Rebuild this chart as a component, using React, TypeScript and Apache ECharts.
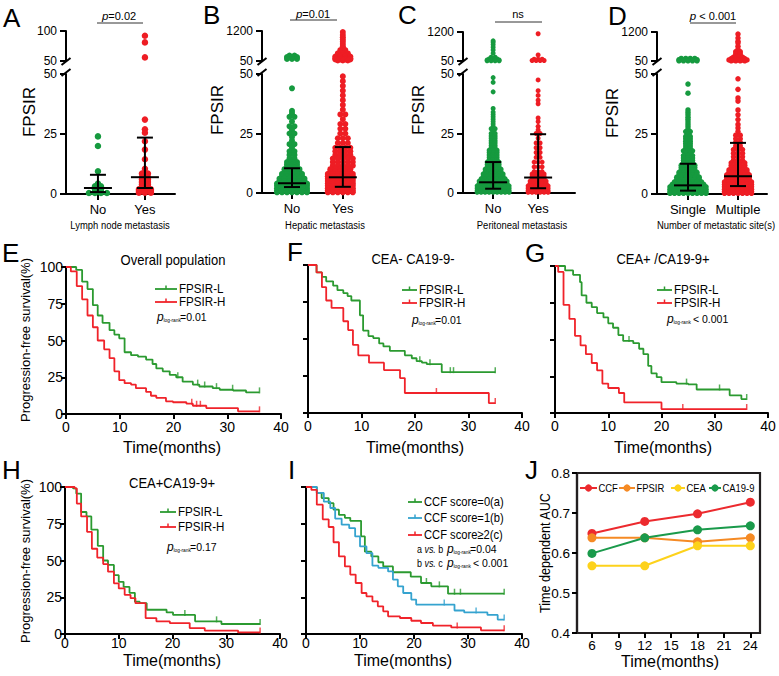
import React, { useEffect, useRef } from 'react';
import * as echarts from 'echarts';

const FONT = "'Liberation Sans', Arial, Helvetica, sans-serif";

const GREEN = '#169a3f';
const RED = '#ee1d24';
const KM_GREEN = '#2b9a30';
const KM_RED = '#f0232a';
const KM_BLUE = '#35a3cf';

// ---------- FPSIR by metastatic pattern: [FPSIR value, patients at that value] ----------
const lymphNoLow = [[24, 1], [20, 1], [9.5, 1], [4.3, 1], [3.2, 2], [2, 2], [1, 2], [0.4, 4]];
const lymphNoHigh: number[][] = [];
const lymphYesLow = [[31, 1], [27, 1], [25.5, 1], [22, 1], [18.5, 1], [14.5, 1], [10.5, 1], [8.5, 2], [7, 2], [6, 2], [5, 2], [4, 2], [3, 2], [2, 3], [1.2, 3], [0.5, 3]];
const lymphYesHigh = [[92, 1], [81, 1], [56, 1]];
const lymphNoIqr = [0.8, 2.5, 8];
const lymphYesIqr = [2.5, 7, 23.5];

const hepNoLow = [[44, 1], [34.5, 1], [33.5, 1], [32, 2], [30, 1], [28, 2], [26.5, 1], [25, 2], [23.5, 1], [22, 1], [20.5, 2], [19, 1], [17.5, 2], [16, 2], [14.5, 2], [13, 3], [12, 3], [11, 3], [10, 4], [9, 4], [8, 5], [7, 5], [6, 6], [5, 6], [4, 7], [3, 7], [2, 7], [1, 7], [0.3, 7]];
const hepNoHigh = [[260, 2], [200, 3], [130, 3]];
const hepYesLow = [[49, 1], [47, 1], [45, 1], [43, 1], [41, 1], [39, 1], [37, 1], [35, 1], [33, 2], [31, 1], [29, 2], [27, 2], [25, 2], [23, 3], [21, 3], [19, 4], [17.5, 4], [16, 4], [14.5, 5], [13, 5], [11.5, 5], [10, 6], [9, 6], [8, 7], [7, 7], [6, 7], [5, 7], [4, 7], [3, 7], [2, 7], [1, 7], [0.3, 7]];
const hepYesHigh = [[1160, 1], [1050, 1], [960, 1], [870, 1], [790, 1], [700, 1], [620, 1], [540, 1], [470, 2], [400, 2], [340, 3], [280, 3], [220, 4], [160, 4], [110, 4], [70, 3]];
const hepNoIqr = [2.5, 4.1, 10.4];
const hepYesIqr = [2.6, 6.6, 19.3];

const perNoLow = [[48.5, 1], [46.5, 1], [42.5, 1], [35.5, 1], [34, 1], [33, 1], [32, 1], [31, 1], [30, 1], [29, 1], [28, 1], [27, 2], [26, 1], [25, 2], [24, 2], [23, 2], [22, 2], [21, 2], [20, 2], [19, 2], [18, 3], [17, 3], [16, 3], [15, 3], [14, 3], [13, 4], [12, 4], [11, 4], [10, 5], [9, 5], [8, 6], [7, 6], [6, 7], [5, 8], [4, 8], [3, 9], [2, 9], [1, 9], [0.3, 9]];
const perNoHigh = [[850, 1], [790, 1], [700, 1], [600, 1], [490, 1], [360, 1], [200, 2], [130, 3], [90, 4], [60, 4]];
const perYesLow = [[47.5, 1], [43, 1], [41, 1], [39, 1], [37.5, 1], [31.5, 1], [30, 1], [28, 1], [26.5, 1], [25, 2], [23, 1], [21, 2], [19, 2], [17, 2], [15, 2], [13, 3], [11, 3], [9, 3], [8, 4], [7, 4], [6, 4], [5, 5], [4, 5], [3, 6], [2, 6], [1, 6], [0.3, 6]];
const perYesHigh = [[1130, 1], [290, 1], [120, 3], [70, 4]];
const perNoIqr = [1.8, 4.5, 13];
const perYesIqr = [2, 6.5, 24.7];

const siteSingleLow = [[45.8, 1], [42, 1], [35, 1], [34, 1], [33, 1], [32, 1], [31, 1], [30, 1], [29, 1], [28, 1], [27, 1], [26, 2], [25, 1], [24, 2], [23, 2], [22, 2], [21, 2], [20, 2], [19, 2], [18, 3], [17, 2], [16, 3], [15, 3], [14, 3], [13, 3], [12, 4], [11, 4], [10, 4], [9, 5], [8, 5], [7, 6], [6, 6], [5, 7], [4, 8], [3, 9], [2, 9], [1, 9], [0.3, 9]];
const siteSingleHigh = [[150, 4], [100, 5], [60, 5]];
const siteMultiLow = [[48, 1], [43.6, 1], [40, 1], [38.7, 1], [35, 1], [33, 1], [31, 1], [29, 1], [27.5, 1], [26, 1], [24.5, 2], [23, 2], [21.5, 2], [20, 2], [18.5, 3], [17, 3], [15.5, 3], [14, 3], [13, 4], [12, 4], [11, 4], [10, 5], [9, 5], [8, 6], [7, 6], [6, 6], [5, 7], [4, 7], [3, 7], [2, 7], [1, 7], [0.3, 7]];
const siteMultiHigh = [[1120, 1], [960, 1], [830, 1], [760, 1], [630, 1], [520, 1], [420, 2], [330, 2], [250, 2], [200, 3], [145, 4], [90, 5], [60, 4]];
const siteSingleIqr = [1.4, 3.6, 12.6];
const siteMultiIqr = [3.3, 7.4, 21.3];

// ---------- Progression-free survival: [month, survival %] ----------
const overallL = [[0, 100], [1.9, 98], [3, 90], [4, 85], [5, 74], [5.9, 67], [6.8, 62], [8.1, 57], [9, 54], [9.9, 51.5], [10.9, 42], [12.1, 40], [13.4, 39], [14.9, 37], [16.1, 34], [16.8, 31], [18, 29], [19.3, 26.6], [20.5, 25], [21.7, 22], [23.6, 20], [24.8, 18.7], [27.3, 17.6], [28.6, 16.5], [31.1, 16], [33.5, 14.7], [36, 14.7]];
const overallH = [[0, 100], [0.9, 97], [2, 87], [3, 78], [4, 67], [5, 59], [5.9, 50], [7.1, 44], [8.1, 38], [9, 29], [9.9, 23], [10.9, 21], [12.1, 20], [13, 17.6], [14.9, 15], [15.8, 12.4], [16.8, 11], [18.6, 8.6], [19.9, 8], [22.4, 7], [23.6, 5.6], [26.1, 4], [32, 1.8], [36, 1.8]];
const overallCensorL = [20.8, 24.5, 25.8, 28, 31, 36];
const overallCensorH = [23.4, 24.3, 25, 36];

const negL = [[0, 100], [1.6, 95], [2.6, 92], [3.4, 89], [4.7, 86], [5.5, 83], [6.6, 81], [7.4, 79], [8.1, 76], [9.7, 66], [10.3, 55.7], [11.3, 52], [12.2, 50.6], [13.3, 47], [14.1, 45], [15.3, 42], [18.1, 39], [19.4, 37], [20.3, 35], [21.3, 34], [22.2, 33], [25, 27.6], [35, 27.6]];
const negH = [[0, 100], [1.6, 95], [2.6, 85], [3.4, 76], [4.4, 71], [6.6, 62], [7.5, 56], [8.4, 46], [9.4, 39], [11.4, 34], [14.2, 29], [17.2, 23.6], [18.1, 13.5], [33.8, 6.7], [35, 6.7]];
const negCensorL = [20.9, 22.8, 26.6, 27.2, 35];
const negCensorH = [24, 35];

const posL = [[0, 100], [1.9, 97], [3.4, 94], [4.7, 89], [5, 80], [5.9, 75], [6.9, 72], [7.9, 68], [9.1, 65], [10, 61], [10.9, 58], [11.9, 53], [12.8, 49], [14.7, 47.5], [15.8, 43.7], [16.6, 40], [17.5, 32], [18.1, 27], [19.1, 24.4], [20, 21], [22.8, 20], [25, 19.5], [26.6, 16], [32.8, 12], [35, 9.5], [36, 9.5]];
const posH = [[0, 100], [0.6, 96], [1.6, 73.5], [2.7, 64], [3.75, 52.5], [4.8, 46], [5.8, 40], [6.9, 34], [7.9, 29], [8.9, 20], [10, 17], [12, 13.6], [13, 7.2], [20, 2.7], [36, 2.7]];
const posCensorL = [13.9, 24.7, 30.9, 36];
const posCensorH = [24, 36];

const dualL = [[0, 100], [1.5, 99], [2.1, 95.5], [3, 83], [4, 80], [4.9, 71], [6.1, 60], [7.1, 50], [8, 47], [9.1, 40], [10, 35.5], [10.9, 32], [12, 28], [13, 22], [13.9, 21], [15.2, 16.5], [18.9, 14.7], [20.1, 13], [24.2, 8.6], [29.1, 6.8], [36.3, 6.8]];
const dualH = [[0, 100], [1.8, 99], [2.2, 88.7], [3, 80], [4.1, 69.5], [5, 58], [6, 52], [7.1, 47.6], [8, 42.4], [9.1, 34.5], [10, 31], [11.1, 26.6], [12.2, 24.4], [13.1, 21], [15, 10.8], [17, 8.6], [19.5, 7.4], [23.2, 4], [26, 2.3], [32.2, 1.1], [36.3, 1.1]];
const dualCensorL = [22.3, 28.2, 36.3];
const dualCensorH = [36.3];

const ccf0 = [[0, 100], [2, 96], [2.9, 92.5], [4.2, 89], [5.1, 84.6], [6.1, 81], [7.2, 79], [8.2, 77], [10.2, 66.4], [10.9, 56], [12.1, 52.8], [13.4, 48.8], [14.3, 46], [16.1, 42], [19.4, 39], [21.3, 34.7], [23.2, 32.4], [26.3, 27.4], [36.7, 27.4]];
const ccf1 = [[0, 100], [2, 96], [3.3, 90], [4.5, 85.7], [5.4, 78.5], [6.6, 74.4], [8, 72], [9.1, 66.4], [10, 59.6], [11.2, 55], [12.3, 46.5], [13.4, 45], [15.2, 42.6], [16.1, 37], [17, 32.4], [18, 27.9], [19.5, 23.4], [20.4, 20], [27.5, 16], [29.3, 14.7], [33.6, 13], [35.5, 9.8], [36.7, 9.8]];
const ccf2 = [[0, 100], [1, 98], [2, 88], [3.1, 78], [4.2, 72.8], [5.1, 62.4], [6.1, 52.8], [7.2, 46], [8.2, 40.4], [9.2, 34.7], [10.3, 27.9], [11.2, 25.6], [12.3, 22.2], [13.3, 18.8], [14.3, 15.4], [15.2, 12], [17.4, 10.9], [19.5, 9], [21.3, 7.5], [23.5, 5.7], [26.9, 4.5], [32.4, 2.5], [36.7, 2.5]];
const ccfCensor0 = [22.3, 24.7, 27.5, 28.6, 36.7];
const ccfCensor1 = [25.6, 31.5, 36.7];
const ccfCensor2 = [28, 36.7];

// ---------- Time-dependent AUC ----------
const aucMonths = [6, 12, 18, 24];
const aucCCF = [0.649, 0.679, 0.698, 0.727];
const aucFPSIR = [0.638, 0.638, 0.628, 0.638];
const aucCEA = [0.568, 0.568, 0.618, 0.618];
const aucCA199 = [0.599, 0.638, 0.658, 0.668];
const aucTicks = [6, 9, 12, 15, 18, 21, 24];

const AX = { color: '#000', width: 2 };

function swarm(rows: number[][], center: number, step: number) {
  const pts: number[][] = [];
  rows.forEach(([v, n]) => {
    for (let i = 0; i < n; i++) pts.push([center + (i - (n - 1) / 2) * step, v]);
  });
  return pts;
}

function survivalAt(curve: number[][], t: number) {
  let s = curve[0][1];
  for (const [x, y] of curve) if (x <= t) s = y;
  return s;
}

const errorBar = (_params: any, api: any) => {
  const x = api.value(0);
  const lo = api.coord([x, api.value(1)]);
  const md = api.coord([x, api.value(2)]);
  const hi = api.coord([x, api.value(3)]);
  const style = { stroke: '#000', lineWidth: 2 };
  const h = (p: number[], w: number) => ({ type: 'line', shape: { x1: p[0] - w, y1: p[1], x2: p[0] + w, y2: p[1] }, style });
  return {
    type: 'group',
    children: [
      { type: 'line', shape: { x1: lo[0], y1: lo[1], x2: hi[0], y2: hi[1] }, style },
      h(md, 14), h(lo, 8), h(hi, 8),
    ],
  };
};

// text helper; "squeeze" narrows the glyphs horizontally (condensed lettering)
function text(x: number, y: number, t: string, size: number, extra: any = {}) {
  const align = extra.align || 'left';
  return {
    type: 'text', x, y, silent: true, rotation: extra.rotation || 0, scaleX: extra.squeeze || 1,
    style: {
      text: t, fontSize: size, fontFamily: FONT, fill: '#000',
      fontStyle: extra.fontStyle || 'normal', rich: extra.rich,
      align, textAlign: align, verticalAlign: 'middle', textVerticalAlign: 'middle',
    },
  };
}

function seg(x1: number, y1: number, x2: number, y2: number, color = '#000', w = 2) {
  return { type: 'line', silent: true, shape: { x1, y1, x2, y2 }, style: { stroke: color, lineWidth: w } };
}

function pLogRank(x: number, y: number, rest: string) {
  return [
    text(x, y, 'p', 12, { fontStyle: 'italic' }),
    text(x + 6.5, y + 3.5, 'log-rank', 4.8),
    text(x + 23, y, rest, 10.5),
  ];
}

function kmLegend(x1: number, x2: number, y: number, color: string, label: string, size: number) {
  const m = (x1 + x2) / 2;
  return [
    seg(x1, y, x2, y, color, 1.8),
    seg(m, y - 3.5, m, y, color, 1.5),
    text(x2 + 2, y, label, size, { squeeze: 0.86 }),
  ];
}

function buildOption() {
  const grid: any[] = [];
  const xAxis: any[] = [];
  const yAxis: any[] = [];
  const series: any[] = [];

  const scatterPanels = [
    { left: 66, right: 175, top: 74, bottom: 194, upTop: 31, upBottom: 61, xMin: 0.32, xMax: 2.64, upMax: 100, cats: ['No', 'Yes'], dot: 6.5, step: 6,
      groups: [{ low: lymphNoLow, high: lymphNoHigh, iqr: lymphNoIqr, color: GREEN }, { low: lymphYesLow, high: lymphYesHigh, iqr: lymphYesIqr, color: RED }] },
    { left: 262, right: 353, top: 74, bottom: 193, upTop: 31, upBottom: 61, xMin: 0.41, xMax: 2.2, upMax: 1200, cats: ['No', 'Yes'], dot: 6, step: 5,
      groups: [{ low: hepNoLow, high: hepNoHigh, iqr: hepNoIqr, color: GREEN }, { low: hepYesLow, high: hepYesHigh, iqr: hepYesIqr, color: RED }] },
    { left: 463, right: 575, top: 74, bottom: 193, upTop: 32, upBottom: 61, xMin: 0.33, xMax: 2.82, upMax: 1200, cats: ['No', 'Yes'], dot: 5, step: 4,
      groups: [{ low: perNoLow, high: perNoHigh, iqr: perNoIqr, color: GREEN }, { low: perYesLow, high: perYesHigh, iqr: perYesIqr, color: RED }] },
    { left: 657, right: 767, top: 74, bottom: 194, upTop: 32, upBottom: 61, xMin: 0.38, xMax: 2.58, upMax: 1200, cats: ['Single', 'Multiple'], dot: 5.5, step: 4.5,
      groups: [{ low: siteSingleLow, high: siteSingleHigh, iqr: siteSingleIqr, color: GREEN }, { low: siteMultiLow, high: siteMultiHigh, iqr: siteMultiIqr, color: RED }] },
  ];

  const plain = (v: number) => String(v);

  scatterPanels.forEach((p) => {
    const gLow = grid.length;
    grid.push({ left: p.left, top: p.top, width: p.right - p.left, height: p.bottom - p.top });
    grid.push({ left: p.left, top: p.upTop, width: p.right - p.left, height: p.upBottom - p.upTop });
    const xi = xAxis.length;
    xAxis.push({
      type: 'value', gridIndex: gLow, min: p.xMin, max: p.xMax,
      axisLine: { show: true, onZero: false, lineStyle: AX },
      axisTick: { show: true, length: 6, lineStyle: AX, customValues: [1, 2] },
      axisLabel: { customValues: [1, 2], formatter: (v: number) => p.cats[Math.round(v) - 1] || '', fontSize: 13, color: '#000', margin: 9, fontFamily: FONT },
      splitLine: { show: false },
    });
    xAxis.push({ type: 'value', gridIndex: gLow + 1, min: p.xMin, max: p.xMax, show: false });
    const yi = yAxis.length;
    yAxis.push({
      type: 'value', gridIndex: gLow, min: 0, max: 50, interval: 25,
      axisLine: { show: true, onZero: false, lineStyle: AX },
      axisTick: { show: true, length: 6, lineStyle: AX },
      axisLabel: { fontSize: 12, color: '#000', margin: 9, fontFamily: FONT, formatter: plain },
      splitLine: { show: false },
    });
    yAxis.push({
      type: 'value', gridIndex: gLow + 1, min: 50, max: p.upMax,
      axisLine: { show: true, onZero: false, lineStyle: AX },
      axisTick: { show: true, length: 6, lineStyle: AX, customValues: [50, p.upMax] },
      axisLabel: { customValues: [50, p.upMax], fontSize: 12, color: '#000', margin: 9, fontFamily: FONT, formatter: plain },
      splitLine: { show: false },
    });
    const step = p.step / ((p.right - p.left) / (p.xMax - p.xMin));
    p.groups.forEach((g, k) => {
      series.push({ type: 'scatter', xAxisIndex: xi, yAxisIndex: yi, data: swarm(g.low, k + 1, step), symbolSize: p.dot, itemStyle: { color: g.color, opacity: 1 }, silent: true, z: 2 });
      if (g.high.length) {
        series.push({ type: 'scatter', xAxisIndex: xi + 1, yAxisIndex: yi + 1, data: swarm(g.high, k + 1, step), symbolSize: p.dot, itemStyle: { color: g.color, opacity: 1 }, silent: true, z: 2 });
      }
    });
    series.push({
      type: 'custom', xAxisIndex: xi, yAxisIndex: yi, renderItem: errorBar, silent: true, z: 5,
      dimensions: ['x', 'q1', 'median', 'q3'], encode: { x: 0, y: [1, 2, 3] },
      data: p.groups.map((g, k) => [k + 1, g.iqr[0], g.iqr[1], g.iqr[2]]),
    });
  });

  const kmPanels = [
    { left: 66, top: 267, width: 215, height: 147, yLabels: true, labelGap: 6,
      curves: [{ data: overallL, censor: overallCensorL, color: KM_GREEN }, { data: overallH, censor: overallCensorH, color: KM_RED }] },
    { left: 308, top: 265, width: 214, height: 148, yLabels: false, labelGap: 6,
      curves: [{ data: negL, censor: negCensorL, color: KM_GREEN }, { data: negH, censor: negCensorH, color: KM_RED }] },
    { left: 555, top: 266, width: 213, height: 147, yLabels: false, labelGap: 6,
      curves: [{ data: posL, censor: posCensorL, color: KM_GREEN }, { data: posH, censor: posCensorH, color: KM_RED }] },
    { left: 65, top: 487, width: 215, height: 147, yLabels: true, labelGap: 2,
      curves: [{ data: dualL, censor: dualCensorL, color: KM_GREEN }, { data: dualH, censor: dualCensorH, color: KM_RED }] },
    { left: 306, top: 487, width: 216, height: 147, yLabels: false, labelGap: 2,
      curves: [{ data: ccf0, censor: ccfCensor0, color: KM_GREEN }, { data: ccf1, censor: ccfCensor1, color: KM_BLUE }, { data: ccf2, censor: ccfCensor2, color: KM_RED }] },
  ];

  kmPanels.forEach((p) => {
    const gi = grid.length;
    grid.push({ left: p.left, top: p.top, width: p.width, height: p.height });
    const xi = xAxis.length;
    xAxis.push({
      type: 'value', gridIndex: gi, min: 0, max: 40, interval: 10,
      axisLine: { show: true, onZero: false, lineStyle: AX },
      axisTick: { show: true, length: 5, lineStyle: AX },
      axisLabel: { fontSize: 14, color: '#000', margin: p.labelGap, fontFamily: FONT },
      splitLine: { show: false },
    });
    const yi = yAxis.length;
    yAxis.push({
      type: 'value', gridIndex: gi, min: 0, max: 100, interval: 25,
      axisLine: { show: true, onZero: false, lineStyle: AX },
      axisTick: { show: true, length: 5, lineStyle: AX },
      axisLabel: { show: p.yLabels, fontSize: 14, color: '#000', margin: 3, fontFamily: FONT },
      splitLine: { show: false },
    });
    p.curves.forEach((c) => {
      series.push({
        type: 'line', xAxisIndex: xi, yAxisIndex: yi, step: 'end', data: c.data, showSymbol: false, symbol: 'none',
        lineStyle: { color: c.color, width: 1.8 }, silent: true, z: 3,
      });
      series.push({
        type: 'scatter', xAxisIndex: xi, yAxisIndex: yi, data: c.censor.map((t) => [t, survivalAt(c.data, t)]),
        symbol: 'rect', symbolSize: [1.5, 6], symbolOffset: [0, -2], itemStyle: { color: c.color }, silent: true, z: 3,
      });
    });
  });

  // time-dependent AUC panel
  const gj = grid.length;
  grid.push({ left: 577, top: 473, width: 183, height: 160, show: true, borderColor: '#231f20', borderWidth: 2.2, backgroundColor: 'transparent' });
  const xj = xAxis.length;
  xAxis.push({
    type: 'value', gridIndex: gj, min: 4.3, max: 25.1,
    axisLine: { show: true, onZero: false, lineStyle: { color: '#231f20', width: 2.2 } },
    axisTick: { show: true, length: 5, lineStyle: AX, customValues: aucTicks },
    axisLabel: { customValues: aucTicks, fontSize: 13.5, color: '#000', margin: 5, fontFamily: FONT },
    splitLine: { show: false },
  });
  const yj = yAxis.length;
  yAxis.push({
    type: 'value', gridIndex: gj, min: 0.4, max: 0.8, interval: 0.1,
    axisLine: { show: true, onZero: false, lineStyle: { color: '#231f20', width: 2.2 } },
    axisTick: { show: true, length: 5, lineStyle: AX },
    axisLabel: { fontSize: 13.5, color: '#000', margin: 7, fontFamily: FONT, formatter: (v: number) => v.toFixed(1) },
    splitLine: { show: false },
  });
  const aucSeries = [
    { name: 'CCF', values: aucCCF, color: '#ec2a2e' },
    { name: 'FPSIR', values: aucFPSIR, color: '#f58a24' },
    { name: 'CEA', values: aucCEA, color: '#fdd21b' },
    { name: 'CA19-9', values: aucCA199, color: '#1a9a4b' },
  ];
  aucSeries.forEach((s) => {
    series.push({
      type: 'line', name: s.name, xAxisIndex: xj, yAxisIndex: yj, data: aucMonths.map((m, i) => [m, s.values[i]]),
      symbol: 'circle', symbolSize: 9, lineStyle: { color: s.color, width: 2 }, itemStyle: { color: s.color }, silent: true, z: 3,
    });
  });

  // ---------- annotations ----------
  const g: any[] = [];
  const letters: [string, number, number][] = [
    ['A', 3, 18], ['B', 203, 15], ['C', 398, 15], ['D', 608, 16],
    ['E', 2, 253], ['F', 287, 252], ['G', 525, 253],
    ['H', 2, 470], ['I', 288, 470], ['J', 525, 470],
  ];
  letters.forEach(([t, x, y]) => g.push(text(x, y, t, 26)));

  // broken y axes of the dot plots
  [66, 262, 463, 657].forEach((x) => {
    g.push(seg(x - 4.5, 65, x + 4.5, 58));
    g.push(seg(x - 4.5, 76, x + 4.5, 69));
  });

  [[29, 112], [217, 110], [418, 110], [612, 113]].forEach(([x, y]) =>
    g.push(text(x, y, 'FPSIR', 17, { align: 'center', rotation: Math.PI / 2 })));

  [['Lymph node metastasis', 120], ['Hepatic metastasis', 325], ['Peritoneal metastasis', 522], ['Number of metastatic site(s)', 716]].forEach(([t, x]) =>
    g.push(text(x as number, 225, t as string, 11, { align: 'center', squeeze: 0.86 })));

  const italicP = { i: { fontStyle: 'italic', fontSize: 11.5, fontFamily: FONT } };
  g.push(text(119, 16, '{i|p}=0.02', 11, { align: 'center', rich: italicP }), seg(97, 23, 143, 23, '#333', 1));
  g.push(text(313, 14, '{i|p}=0.01', 11, { align: 'center', rich: italicP }), seg(290, 20, 337, 20, '#333', 1));
  g.push(text(518, 14, 'ns', 11, { align: 'center' }), seg(495, 22, 542, 22, '#333', 1));
  g.push(text(713, 16, '{i|p} < 0.001', 11, { align: 'center', rich: italicP }), seg(690, 23, 736, 23, '#333', 1));

  g.push(text(173, 260, 'Overall population', 14, { align: 'center', squeeze: 0.93 }));
  g.push(text(413, 259, 'CEA- CA19-9-', 14, { align: 'center', squeeze: 0.93 }));
  g.push(text(663, 259, 'CEA+ /CA19-9+', 14, { align: 'center', squeeze: 0.93 }));
  g.push(text(172, 483, 'CEA+CA19-9+', 14, { align: 'center', squeeze: 0.93 }));

  g.push(...kmLegend(155, 177, 289, KM_GREEN, 'FPSIR-L', 13.5), ...kmLegend(155, 177, 302, KM_RED, 'FPSIR-H', 13.5), ...pLogRank(157, 317, '=0.01'));
  g.push(...kmLegend(402, 417, 290, KM_GREEN, 'FPSIR-L', 13.5), ...kmLegend(402, 417, 303, KM_RED, 'FPSIR-H', 13.5), ...pLogRank(412, 320, '=0.01'));
  g.push(...kmLegend(657, 672, 290, KM_GREEN, 'FPSIR-L', 13.5), ...kmLegend(657, 672, 303, KM_RED, 'FPSIR-H', 13.5), ...pLogRank(667, 319, ' < 0.001'));
  g.push(...kmLegend(160, 176, 512, KM_GREEN, 'FPSIR-L', 13.5), ...kmLegend(160, 176, 527, KM_RED, 'FPSIR-H', 13.5), ...pLogRank(167, 547, '=0.17'));
  g.push(...kmLegend(408, 422, 502, KM_GREEN, 'CCF score=0(a)', 13), ...kmLegend(408, 422, 518, KM_BLUE, 'CCF score=1(b)', 13), ...kmLegend(408, 422, 535, KM_RED, 'CCF score≥2(c)', 13));
  const vs = { i: { fontStyle: 'italic', fontSize: 10.5, fontFamily: FONT } };
  g.push(text(417, 549, 'a {i|vs.} b', 10.5, { rich: vs, squeeze: 0.85 }), ...pLogRank(447, 549, '=0.04'));
  g.push(text(417, 563, 'b {i|vs.} c', 10.5, { rich: vs, squeeze: 0.85 }), ...pLogRank(447, 563, ' < 0.001'));

  [[172, 447], [415, 447], [663, 447], [172, 660], [403, 660], [670, 661]].forEach(([x, y]) =>
    g.push(text(x, y, 'Time(months)', 16, { align: 'center' })));
  [[25, 340], [25, 561]].forEach(([x, y]) =>
    g.push(text(x, y, 'Progression-free survival(%)', 13, { align: 'center', rotation: Math.PI / 2 })));
  g.push(text(545, 553, 'Time dependent AUC', 14, { align: 'center', rotation: Math.PI / 2, squeeze: 0.9 }));

  // AUC legend
  const aucLegendPos = [[580, 597], [619, 635], [671, 685], [709, 721]];
  aucSeries.forEach((s, i) => {
    const [a, b] = aucLegendPos[i];
    g.push(seg(a, 488, b, 488, s.color, 2));
    g.push({ type: 'circle', silent: true, shape: { cx: (a + b) / 2, cy: 488, r: 3.6 }, style: { fill: s.color } });
    g.push(text(b + 1.5, 488, s.name, 10.5, { squeeze: 0.9 }));
  });

  return {
    animation: false,
    backgroundColor: '#fff',
    textStyle: { fontFamily: FONT },
    grid, xAxis, yAxis, series,
    graphic: { elements: g },
  };
}

export default function App() {
  const ref = useRef<HTMLDivElement>(null);
  useEffect(() => {
    if (!ref.current) return;
    const chart = echarts.init(ref.current, undefined, { renderer: 'svg' });
    chart.setOption(buildOption() as any);
    return () => chart.dispose();
  }, []);
  return <div ref={ref} style={{ position: 'fixed', left: 0, top: 0, width: 779, height: 676, background: '#fff' }} />;
}
